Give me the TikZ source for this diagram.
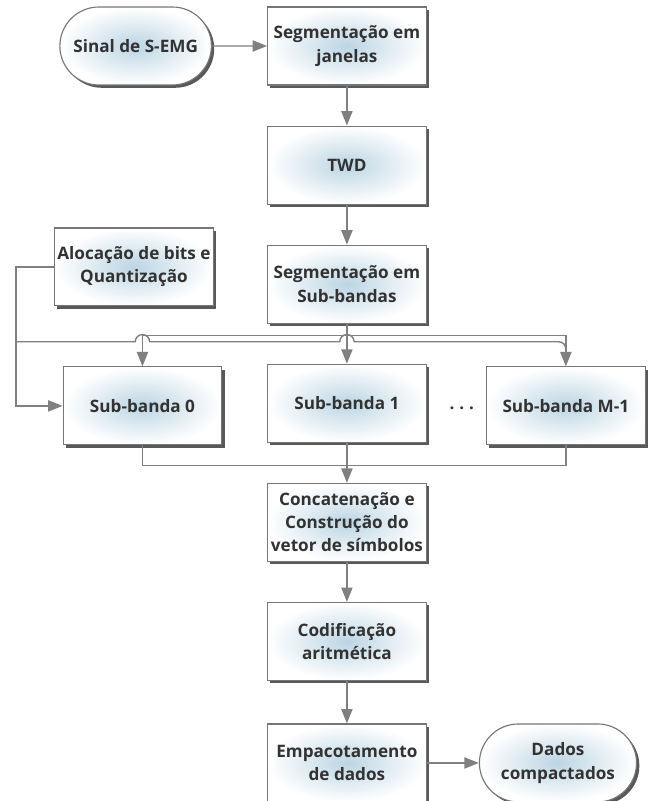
\documentclass[tikz,border=0pt]{standalone}
\usepackage{fontspec}
\setmainfont{Open Sans}
\usetikzlibrary{arrows.meta,positioning,shapes.misc,shadows,calc}
\definecolor{frame}{RGB}{118,118,118}
\definecolor{glow}{RGB}{188,213,227}
\definecolor{ink}{RGB}{50,50,50}
\definecolor{wire}{RGB}{128,128,128}
\tikzset{
  block/.style={draw=frame, line width=0.8pt, inner color=glow, outer color=white,
                drop shadow={shadow xshift=2pt, shadow yshift=-2pt, fill=black!72, opacity=0.9},
                font=\fontsize{12.2}{16.5}\selectfont\bfseries, text=ink, align=center,
                minimum width=#1, minimum height=19.5mm, inner sep=2pt},
  block/.default=39.7mm,
  term/.style={block=#1, rounded rectangle},
  term/.default=39.3mm,
  flow/.style={-{Triangle[length=3.6mm, width=2.8mm]}, line width=1pt, wire},
  bus/.style={line width=1pt, wire},
}
\begin{document}
\begin{tikzpicture}[node distance=10mm]
  \useasboundingbox (0,0) rectangle (16.4,-20.03);
  % main column
  \node[block] (janela) at (8.675,-1.15) {Segmentação em\\janelas};
  \node[term, left=13.75mm of janela] (sinal) {Sinal de S-EMG};
  \node[block, below=of janela] (twd) {TWD};
  \node[block, below=of twd] (subseg) {Segmentação em\\Sub-bandas};
  \node[block, below=of subseg] (sb1) {Sub-banda 1};
  \node[block, below=of sb1] (concat) {Concatenação e\\Construção do\\vetor de símbolos};
  \node[block, below=of concat] (codif) {Codificação\\aritmética};
  \node[block, below=10.6mm of codif] (empac) {Empacotamento\\de dados};
  \node[term=40.7mm, right=13mm of empac] (dados) {Dados\\compactados};
  \draw[flow] (sinal) -- (janela);
  \draw[flow] (janela) -- (twd);
  \draw[flow] (twd) -- (subseg);
  \draw[flow] (subseg) -- (sb1);
  \draw[flow] (concat) -- (codif);
  \draw[flow] (codif) -- (empac);
  \draw[flow] (empac) -- (dados);

  % bit allocation and the sub-band row
  \node[block] (aloc) at (3.35,-6.675) {Alocação de bits e\\Quantização};
  \node[block] (sb0) at (3.5625,-10.15) {Sub-banda 0};
  \node[block] (sbm) at (14.15,-10.15) {Sub-banda M-1};
  \node[font=\fontsize{12.2}{16.5}\selectfont\bfseries, text=ink] (dots) at (11.55,-10.2) {.\hspace{3.5pt}.\hspace{3.5pt}.};

  % upper bus: sub-band split
  \coordinate (split) at ($(subseg.south)+(0,-3mm)$);
  \draw[flow] (split) -| (sb0.north);
  \draw[flow] (split) -| (sbm.north);
  % lower bus: quantization feed, hops over the verticals
  \coordinate (tap) at ($(aloc.west)+(-9.5mm,0)$);
  \draw[flow] (aloc.west) -- (tap) |- (sb0.west);
  \coordinate (feed) at ($(tap |- split)+(0,-1.5mm)$);
  \draw[bus] (feed) -- ($(feed -| sb0.north)+(-1.8mm,0)$) arc[start angle=180, end angle=0, radius=1.8mm]
    -- ($(feed -| sb1.north)+(-1.8mm,0)$) arc[start angle=180, end angle=0, radius=1.8mm]
    -- ($(feed -| sbm.north)+(-1.8mm,0)$) arc[start angle=90, end angle=0, radius=1.8mm];

  % merge into concatenation
  \coordinate (merge) at ($(sb1.south)+(0,-5.6mm)$);
  \draw[bus] (sb0.south) |- (merge) -| (sbm.south);
  \draw[flow] (sb1) -- (concat);
\end{tikzpicture}
\end{document}
